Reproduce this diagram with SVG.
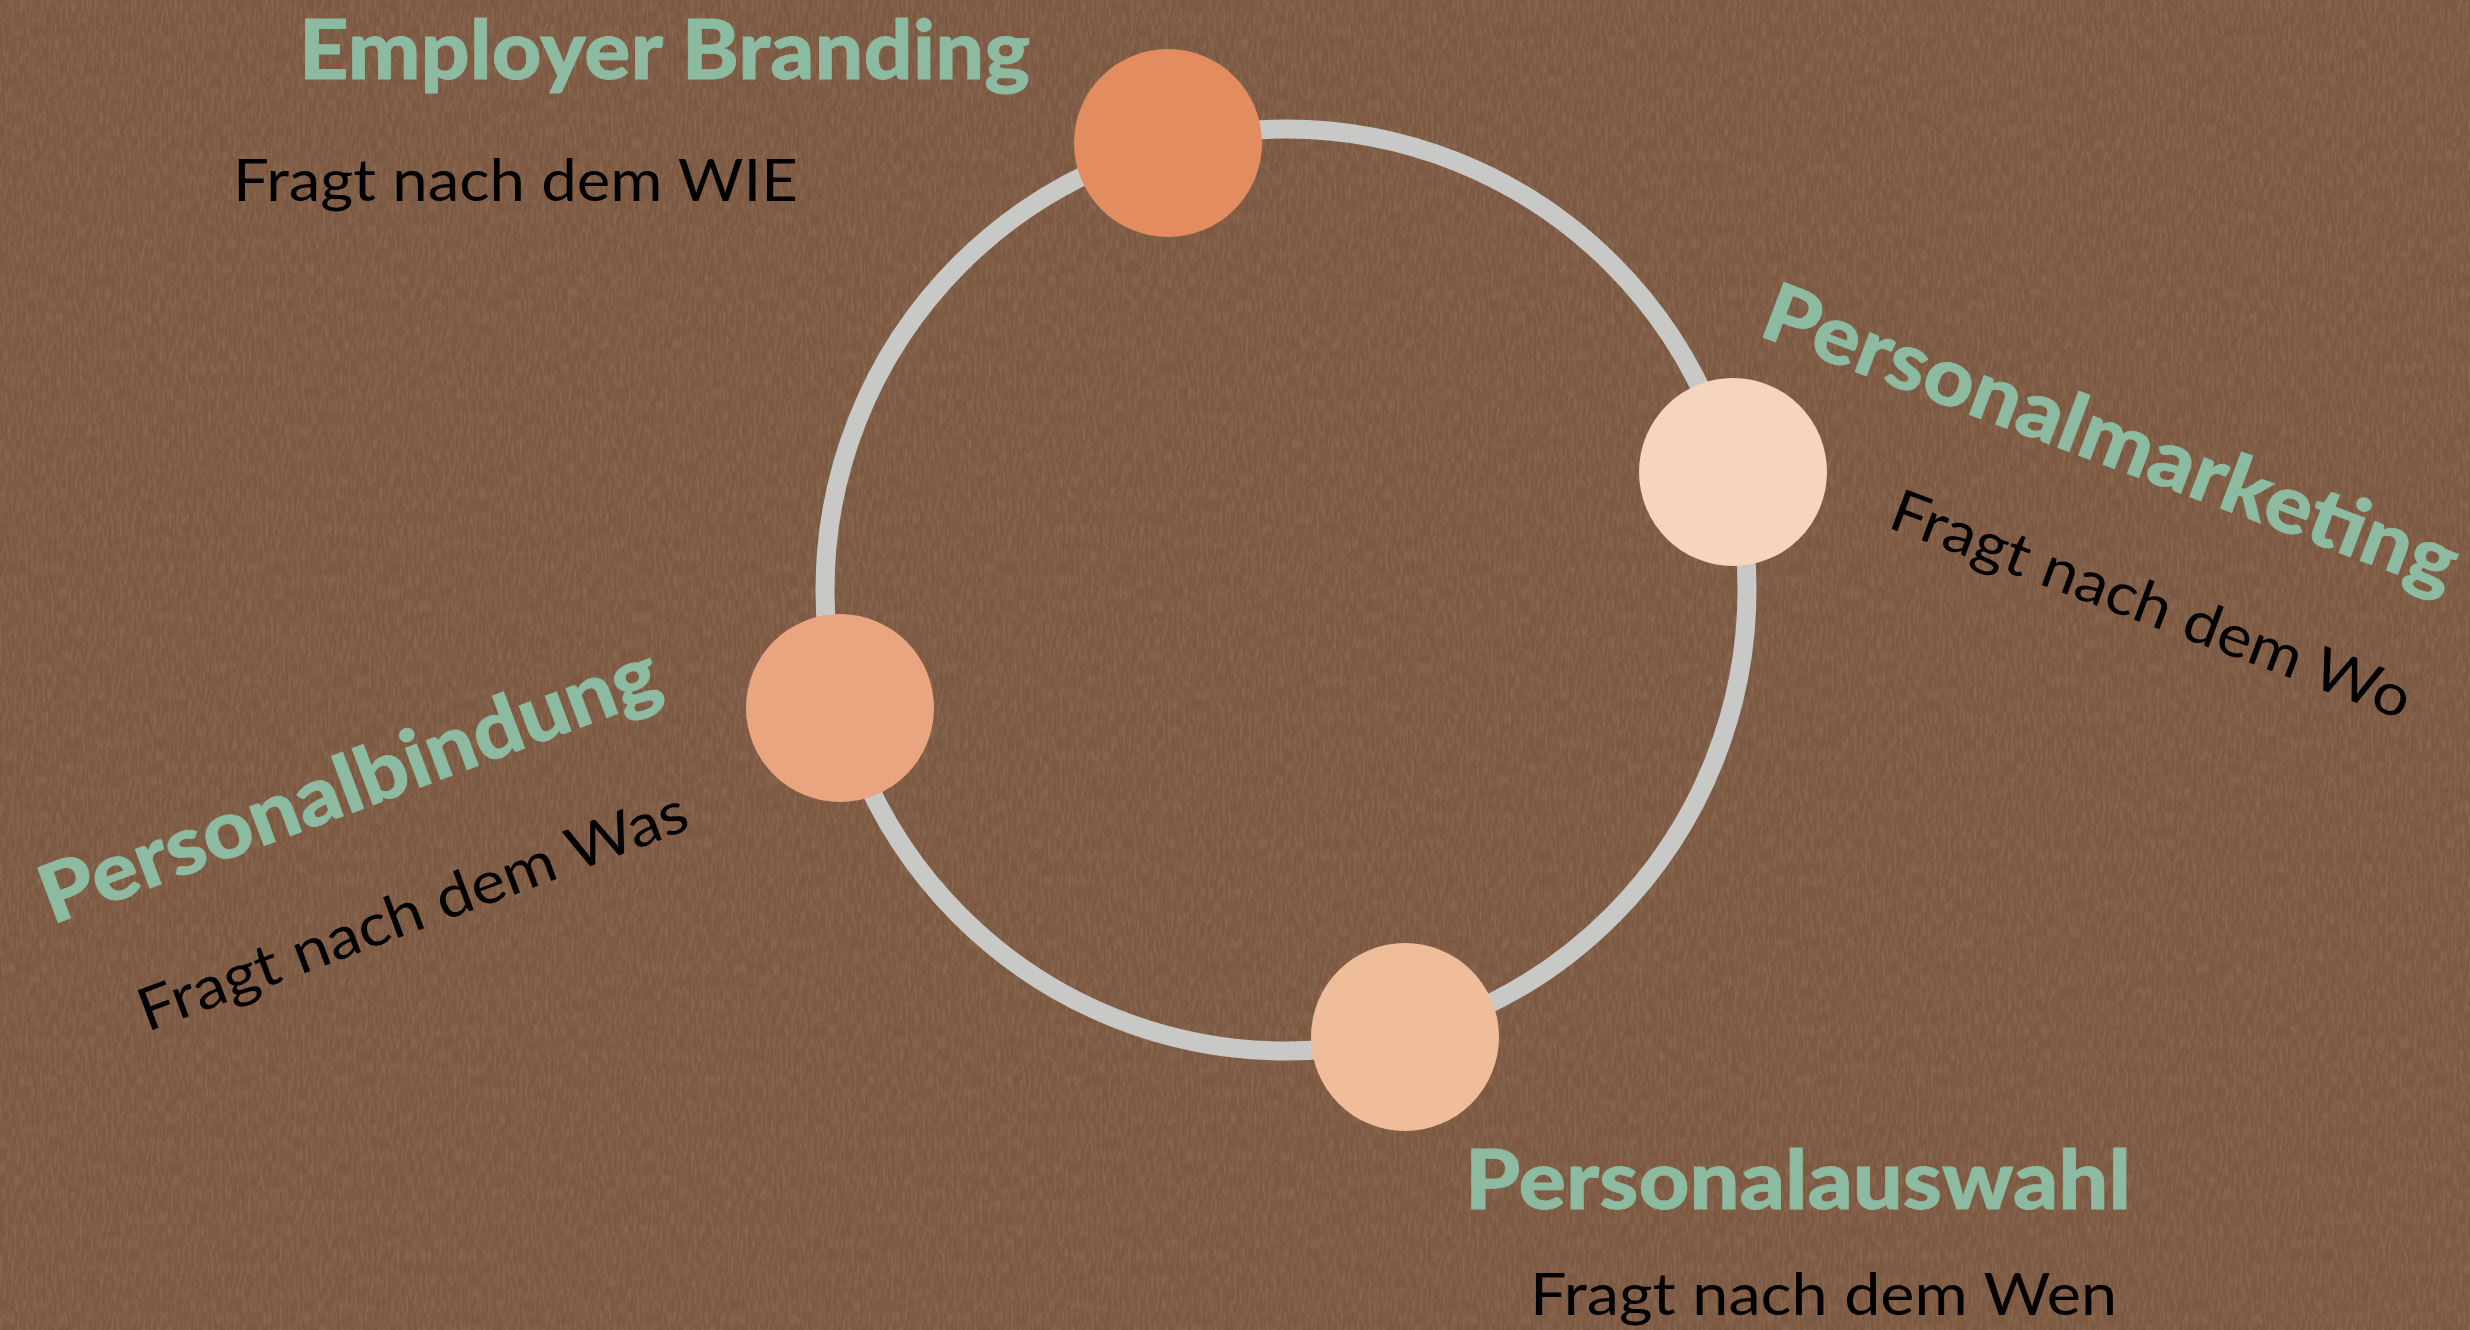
<svg xmlns="http://www.w3.org/2000/svg" width="2470" height="1330" viewBox="0 0 2470 1330">
  <defs>
    <filter id="grain" x="0" y="0" width="100%" height="100%" filterUnits="userSpaceOnUse">
      <feTurbulence type="fractalNoise" baseFrequency="0.35 0.08" numOctaves="3" seed="7" result="n"/>
      <feColorMatrix in="n" type="matrix" values="0 0 0 0 0.36  0 0 0 0 0.24  0 0 0 0 0.16  0 0 0 -1.6 1.0"/>
    </filter>
    <style>
      .head { font-family: Lato, "Open Sans", "Liberation Sans", sans-serif; font-weight: 900; font-size: 81px; fill: #8DBBA1; stroke: #8DBBA1; stroke-width: 0.8; }
      .body { font-family: Lato, "Open Sans", "Liberation Sans", sans-serif; font-weight: 400; font-size: 59px; fill: #000000; }
      .ring { fill: none; stroke: #C8C8C6; stroke-width: 19; }
    </style>
  </defs>

  <rect x="0" y="0" width="2470" height="1330" fill="#7D5942"/>
  <rect x="0" y="0" width="2470" height="1330" filter="url(#grain)" opacity="0.45"/>

  <g id="connectors">
    <circle class="ring" cx="1286" cy="590" r="461"/>
  </g>

  <g id="node-employer-branding">
    <circle cx="1168" cy="143" r="94" fill="#E38C60"/>
    <text class="head" x="299" y="79" textLength="731" lengthAdjust="spacingAndGlyphs">Employer Branding</text>
    <text class="body" x="233" y="201" textLength="565" lengthAdjust="spacingAndGlyphs">Fragt nach dem WIE</text>
  </g>

  <g id="node-personalmarketing">
    <circle cx="1733" cy="472" r="94" fill="#F6D5BF"/>
    <text class="head" transform="translate(1757 335) rotate(20.5)" x="0" y="0" textLength="735" lengthAdjust="spacingAndGlyphs">Personalmarketing</text>
    <text class="body" transform="translate(1886 527) rotate(20.5)" x="0" y="0" textLength="551" lengthAdjust="spacingAndGlyphs">Fragt nach dem Wo</text>
  </g>

  <g id="node-personalauswahl">
    <circle cx="1405" cy="1037" r="94" fill="#F0BD9B"/>
    <text class="head" x="1465" y="1209" textLength="666" lengthAdjust="spacingAndGlyphs">Personalauswahl</text>
    <text class="body" x="1530" y="1315" textLength="587" lengthAdjust="spacingAndGlyphs">Fragt nach dem Wen</text>
  </g>

  <g id="node-personalbindung">
    <circle cx="840" cy="708" r="94" fill="#E9A57F"/>
    <text class="head" transform="translate(52 925) rotate(-20.5)" x="0" y="0" textLength="655" lengthAdjust="spacingAndGlyphs">Personalbindung</text>
    <text class="body" transform="translate(147 1032) rotate(-20.5)" x="0" y="0" textLength="582" lengthAdjust="spacingAndGlyphs">Fragt nach dem Was</text>
  </g>
</svg>
